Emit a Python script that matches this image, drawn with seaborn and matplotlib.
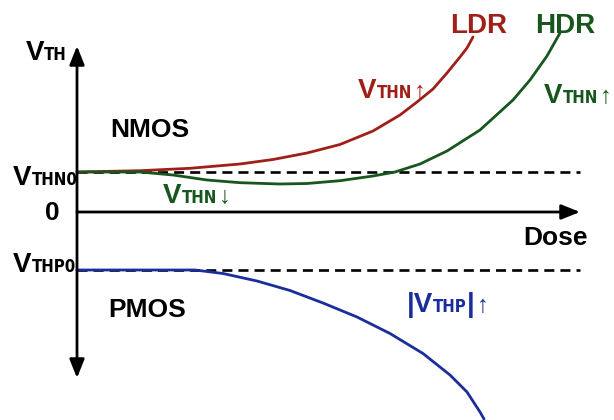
import matplotlib
matplotlib.use("Agg")
import matplotlib.pyplot as plt
from matplotlib import font_manager as fm
from matplotlib.transforms import offset_copy
import seaborn as sns
import pandas as pd

# Threshold-voltage shift vs. total dose (schematic)
VTHN0 = 0.40
VTHP0 = -0.58
DOSE_END = 100.6

ldr_dose = [0, 12.6, 22.6, 32.6, 39.2, 46, 52.6, 59.2, 64.6, 68, 71.2, 74, 76.6, 78, 79.2]
ldr_vth = [0.40, 0.413, 0.437, 0.48, 0.525, 0.59, 0.675, 0.81, 0.97, 1.10, 1.23, 1.39, 1.55, 1.64, 1.75]

hdr_dose = [0, 12.6, 19.2, 26, 32.6, 40.6, 46, 52.6, 59.2, 63.6, 68.6, 74, 80.6, 87.2, 90.6, 94, 96.6]
hdr_vth = [0.40, 0.40, 0.37, 0.32, 0.293, 0.28, 0.285, 0.313, 0.36, 0.40, 0.48, 0.61, 0.82, 1.12, 1.32, 1.56, 1.79]

pmos_dose = [0, 14.6, 23.6, 29.2, 36, 42.6, 49.2, 56, 62.6, 69.2, 74.6, 78, 80.6, 81.4]
pmos_vth = [-0.58, -0.58, -0.58, -0.615, -0.69, -0.785, -0.91, -1.05, -1.215, -1.415, -1.63, -1.80, -2.00, -2.07]

RED = "#9f2018"
GREEN = "#17561d"
BLUE = "#1b2c9b"

sns.set_theme(style="white")
MAIN = ["Liberation Sans", "DejaVu Sans"]
plt.rcParams["font.family"] = MAIN

# narrow face for subscripts, if one is installed
_narrow = [f for f in fm.fontManager.ttflist
           if str(f.stretch) in ("condensed", "semi-condensed", "extra-condensed", "ultra-condensed")
           or "Narrow" in f.name or "Condensed" in f.name]
if _narrow:
    SUB_FAMILY = [_narrow[0].name, "DejaVu Sans"]
    SUB_STRETCH = "condensed"
    SUB_SIZE = 12
else:
    SUB_FAMILY = MAIN
    SUB_STRETCH = "normal"
    SUB_SIZE = 11

fig = plt.figure(figsize=(6.14, 4.2), dpi=100)
ax = fig.add_axes([0, 0, 1, 1])
ax.set_xlim(-15.4, 107.4)
ax.set_ylim(-2.08, 2.12)

# reference levels
dash = (0, (3.8, 2.3))
ax.plot([0, DOSE_END], [VTHN0, VTHN0], color="black", lw=1.9, ls=dash, zorder=1)
ax.plot([0, DOSE_END], [VTHP0, VTHP0], color="black", lw=1.9, ls=dash, zorder=1)

curves = pd.concat([
    pd.DataFrame({"dose": ldr_dose, "vth": ldr_vth, "case": "LDR"}),
    pd.DataFrame({"dose": hdr_dose, "vth": hdr_vth, "case": "HDR"}),
    pd.DataFrame({"dose": pmos_dose, "vth": pmos_vth, "case": "PMOS"}),
])
sns.lineplot(data=curves, x="dose", y="vth", hue="case",
             palette={"LDR": RED, "HDR": GREEN, "PMOS": BLUE},
             sort=False, estimator=None, lw=2.0, legend=False, ax=ax, zorder=3,
             solid_joinstyle="round", solid_capstyle="round")
ax.axis("off")

# axes with arrow heads
arrow = dict(arrowstyle="-|>,head_length=0.75,head_width=0.3", color="black",
             lw=2.0, shrinkA=0, shrinkB=0, mutation_scale=15)
ax.annotate("", xy=(DOSE_END, 0), xytext=(0, 0), arrowprops=arrow, zorder=4)
arrow2 = dict(arrow, arrowstyle="<|-|>,head_length=0.75,head_width=0.3")
ax.annotate("", xy=(0, 1.66), xytext=(0, -1.66), arrowprops=arrow2, zorder=4)

renderer = fig.canvas.get_renderer()


def label(x, y, s, color="black", ha="left", size=19):
    ax.text(x, y, s, color=color, ha=ha, va="baseline", fontsize=size,
            fontweight="bold", family=MAIN, zorder=5)


def rich(x, y, parts, color="black", ha="left"):
    """Place text pieces side by side on a common baseline.
    parts: (text, kind) with kind in {'main', 'sub', 'sym'}"""
    made = []
    for s, kind in parts:
        if kind == "main":
            kw = dict(fontsize=20, fontweight="bold", family=MAIN)
        elif kind == "sub":
            kw = dict(fontsize=SUB_SIZE, fontweight="bold", family=SUB_FAMILY,
                      fontstretch=SUB_STRETCH)
        else:
            kw = dict(fontsize=17, fontweight="normal", family=MAIN)
        t = ax.text(x, y, s, color=color, ha="left", va="baseline", zorder=5, **kw)
        made.append((t, kind))
    widths = [t.get_window_extent(renderer).width for t, _ in made]
    gaps = [2 if k == "sym" else 0 for _, k in made]
    total = sum(widths) + sum(gaps)
    cur = -total if ha == "right" else 0.0
    for (t, kind), w, g in zip(made, widths, gaps):
        cur += g
        t.set_transform(offset_copy(ax.transData, fig=fig, x=cur, y=0, units="dots"))
        cur += w


rich(-2, 1.52, [("V", "main"), ("TH", "sub")], ha="right")
rich(-12.8, 0.27, [("V", "main"), ("THN0", "sub")])
label(-5, -0.08, "0", ha="center")
rich(-12.8, -0.60, [("V", "main"), ("THP0", "sub")])
label(6.6, 0.75, "NMOS")
label(6.2, -1.05, "PMOS")
label(89.2, -0.33, "Dose")
label(74.6, 1.79, "LDR", color=RED, size=20)
label(91.6, 1.79, "HDR", color=GREEN, size=20)
rich(56.2, 1.14, [("V", "main"), ("THN", "sub"), ("↑", "sym")], color=RED)
rich(93.4, 1.09, [("V", "main"), ("THN", "sub"), ("↑", "sym")], color=GREEN)
rich(17.2, 0.09, [("V", "main"), ("THN", "sub"), ("↓", "sym")], color=GREEN)
rich(66, -1.0, [("|V", "main"), ("THP", "sub"), ("|", "main"), ("↑", "sym")], color=BLUE)

fig.savefig("out.png", dpi=100)
